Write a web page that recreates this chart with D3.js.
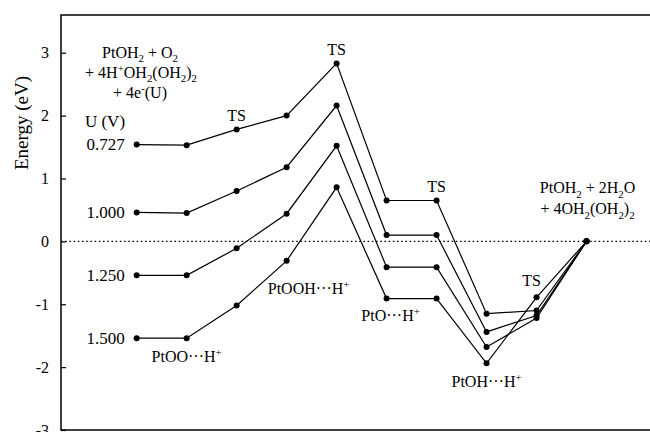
<!DOCTYPE html>
<html>
<head>
<meta charset="utf-8">
<script src="https://cdn.jsdelivr.net/npm/d3@7"></script>
<style>
  html, body { margin: 0; padding: 0; background: #fff; }
  svg { display: block; }
  text { font-family: "Liberation Serif", "Times New Roman", serif; fill: #000; }
</style>
</head>
<body>
<svg id="chart" width="650" height="432"></svg>
<script>
// Reaction coordinate: ten states along the pathway (0..9)
const states = [0, 1, 2, 3, 4, 5, 6, 7, 8, 9];

// Electrode potentials U (V) for each energy profile
const potentials = ["0.727", "1.000", "1.250", "1.500"];

// Energies (eV) of each state at each potential
const energyU0727 = [1.54, 1.53, 1.78, 2.00, 2.83, 0.65, 0.65, -1.15, -1.10, 0];
const energyU1000 = [0.46, 0.45, 0.80, 1.18, 2.16, 0.10, 0.10, -1.44, -1.18, 0];
const energyU1250 = [-0.54, -0.54, -0.11, 0.44, 1.52, -0.41, -0.41, -1.68, -1.22, 0];
const energyU1500 = [-1.54, -1.54, -1.02, -0.31, 0.86, -0.91, -0.91, -1.94, -0.89, 0];

// Y axis ticks
const yTicks = [-3, -2, -1, 0, 1, 2, 3];

const profiles = [energyU0727, energyU1000, energyU1250, energyU1500];

const svg = d3.select("#chart");
const plotLeft = 61, plotTop = 15, plotBottom = 430, plotRight = 650;

const x = d3.scaleLinear().domain([-1.514, 10.27]).range([plotLeft, plotRight]);
const y = d3.scaleLinear().domain([-3, 3.6]).range([plotBottom, plotTop]);

// Frame (right edge runs past the visible area)
svg.append("rect")
  .attr("x", plotLeft).attr("y", plotTop)
  .attr("width", plotRight - plotLeft + 20).attr("height", plotBottom - plotTop)
  .attr("fill", "none").attr("stroke", "#000").attr("stroke-width", 1.5);

// Y axis with inward ticks, plain hyphen for negatives
const yAxis = d3.axisLeft(y).tickValues(yTicks).tickFormat(d => String(d))
  .tickSizeInner(-5).tickSizeOuter(0).tickPadding(12);
const gy = svg.append("g").attr("transform", `translate(${plotLeft},0)`).call(yAxis);
gy.select(".domain").remove();
gy.selectAll(".tick line").attr("stroke", "#000").attr("stroke-width", 1.2);
gy.selectAll(".tick text")
  .style("font-family", '"Liberation Serif", "Times New Roman", serif')
  .style("font-size", "16px").attr("fill", "#000");

svg.append("text")
  .attr("transform", `translate(21,123) rotate(-90)`)
  .attr("text-anchor", "middle").attr("dominant-baseline", "central")
  .style("font-size", "19px")
  .text("Energy (eV)");

// Zero reference line
svg.append("line")
  .attr("x1", plotLeft).attr("x2", plotRight)
  .attr("y1", y(0)).attr("y2", y(0))
  .attr("stroke", "#000").attr("stroke-width", 1.3)
  .attr("stroke-dasharray", "1.6,2.6");

// Energy profiles
const line = d3.line().x((d, i) => x(states[i])).y(d => y(d));
profiles.forEach((vals, k) => {
  svg.append("path").datum(vals)
    .attr("d", line)
    .attr("fill", "none").attr("stroke", "#000").attr("stroke-width", 1.2);
  svg.append("g").selectAll("circle").data(vals).join("circle")
    .attr("cx", (d, i) => x(states[i])).attr("cy", d => y(d))
    .attr("r", 3).attr("fill", "#000");
  svg.append("text")
    .attr("x", x(states[0]) - 12).attr("y", y(vals[0]))
    .attr("dy", "0.35em").attr("text-anchor", "end")
    .style("font-size", "17px")
    .text(potentials[k]);
});

// Rich text: "_c" = subscript char, "^c" = superscript char
function rich(xp, yp, str, size, anchor) {
  const t = svg.append("text").attr("x", xp).attr("y", yp)
    .attr("text-anchor", anchor || "middle").style("font-size", size + "px");
  const segs = [];
  let buf = "";
  for (let i = 0; i < str.length; i++) {
    const c = str[i];
    if ((c === "_" || c === "^") && i + 1 < str.length) {
      if (buf) { segs.push({ text: buf, off: 0, small: false }); buf = ""; }
      segs.push({ text: str[i + 1], off: c === "_" ? size * 0.28 : -size * 0.38, small: true });
      i++;
    } else buf += c;
  }
  if (buf) segs.push({ text: buf, off: 0, small: false });
  let cur = 0;
  segs.forEach(s => {
    const ts = t.append("tspan").text(s.text);
    if (s.off !== cur) ts.attr("dy", s.off - cur);
    if (s.small) ts.style("font-size", (size * 0.68) + "px");
    cur = s.off;
  });
  return t;
}

// Reactant block
rich(140, 58, "PtOH_2 + O_2", 16);
rich(141, 78, "+ 4H^+OH_2(OH_2)_2", 16);
rich(140, 98, "+ 4e^-(U)", 16);
svg.append("text").attr("x", 105).attr("y", 127).attr("text-anchor", "middle")
  .style("font-size", "17px").text("U (V)");

// Transition-state markers
const tsLabel = (xp, yp) => svg.append("text").attr("x", xp).attr("y", yp)
  .attr("text-anchor", "middle").style("font-size", "16px").text("TS");
tsLabel(x(2), y(energyU0727[2]) - 8);
tsLabel(x(4), y(energyU0727[4]) - 8);
tsLabel(x(6), y(energyU0727[6]) - 8);
tsLabel(x(8) - 5, y(energyU1500[8]) - 11);

// Intermediate labels
rich(x(1), y(energyU1500[1]) + 24, "PtOO\u00B7\u00B7\u00B7H^+", 16);
rich(x(3) + 22, y(energyU1500[3]) + 33, "PtOOH\u00B7\u00B7\u00B7H^+", 16);
rich(x(5) + 4, y(energyU1500[5]) + 22, "PtO\u00B7\u00B7\u00B7H^+", 16);
rich(x(7), y(energyU1500[7]) + 24, "PtOH\u00B7\u00B7\u00B7H^+", 16);

// Product block
rich(x(9) + 1, y(0) - 48, "PtOH_2 + 2H_2O", 16);
rich(x(9) + 1, y(0) - 27, "+ 4OH_2(OH_2)_2", 16);
</script>
</body>
</html>
